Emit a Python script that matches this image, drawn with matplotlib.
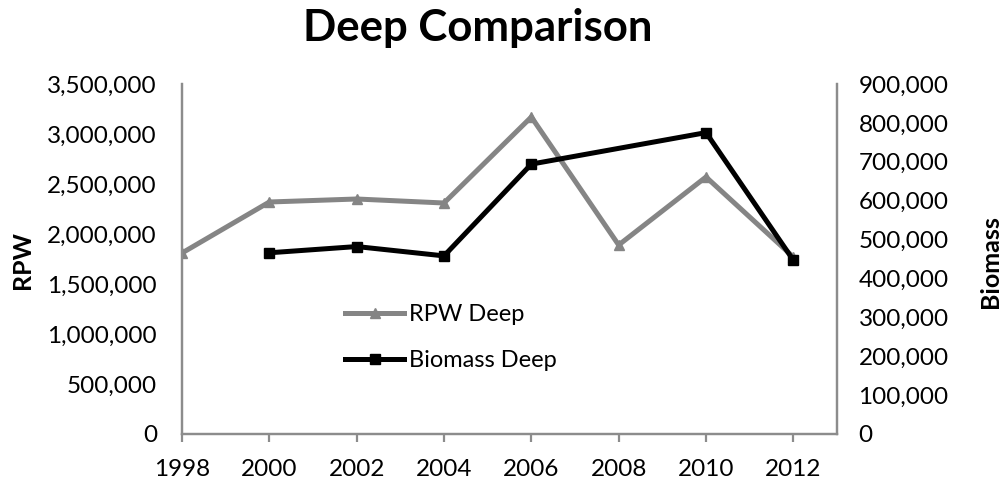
import matplotlib
matplotlib.use("Agg")
import matplotlib.pyplot as plt
from matplotlib.ticker import FuncFormatter

plt.rcParams["font.family"] = ["Lato", "DejaVu Sans"]

# data
rpw_years = [1998, 2000, 2002, 2004, 2006, 2008, 2010, 2012]
rpw_deep = [1810000, 2320000, 2350000, 2310000, 3170000, 1890000, 2570000, 1770000]
bio_years = [2000, 2002, 2004, 2006, 2010, 2012]
biomass_deep = [466000, 482000, 458000, 694000, 775000, 447000]
year_ticks = [1998, 2000, 2002, 2004, 2006, 2008, 2010, 2012]

gray = "#858585"
spine_gray = "#8c8c8c"

fig = plt.figure(figsize=(10.06, 4.84), dpi=100)
ax = fig.add_axes([182 / 1006, 50 / 484, 655 / 1006, 350 / 484])
ax2 = ax.twinx()

comma = FuncFormatter(lambda v, p: f"{int(v):,}")

l1, = ax.plot(rpw_years, rpw_deep, color=gray, lw=3.6, marker="^", ms=7,
              label="RPW Deep", solid_joinstyle="miter")
l2, = ax2.plot(bio_years, biomass_deep, color="black", lw=3.6, marker="s", ms=7,
               label="Biomass Deep", solid_joinstyle="miter")

ax.set_xlim(1998, 2013)
ax.set_xticks(year_ticks)
ax.set_ylim(0, 3500000)
ax.set_yticks(range(0, 3500001, 500000))
ax2.set_ylim(0, 900000)
ax2.set_yticks(range(0, 900001, 100000))
ax.yaxis.set_major_formatter(comma)
ax2.yaxis.set_major_formatter(comma)

for a in (ax, ax2):
    a.spines["top"].set_visible(False)
    for s in ("left", "right", "bottom"):
        a.spines[s].set_color(spine_gray)
        a.spines[s].set_linewidth(1.6)
    a.tick_params(axis="y", length=0, labelsize=17.5, colors="black")
ax.tick_params(axis="y", pad=18)
ax2.tick_params(axis="y", pad=15.5)
ax.tick_params(axis="x", length=6, width=1.6, color=spine_gray, labelsize=17.5, pad=12)

# axis titles placed in figure pixels
fig.text(23 / 1006, 1 - 260 / 484, "RPW", rotation=90, ha="center", va="center",
         fontsize=18, fontweight="bold")
fig.text(990 / 1006, 1 - 262 / 484, "Biomass", rotation=90, ha="center", va="center",
         fontsize=18, fontweight="bold")

fig.text(478 / 1006, 1 - 28 / 484, "Deep Comparison", ha="center", va="center",
         fontsize=31.5, fontweight="bold")

ax.legend(handles=[l1, l2], loc="center left", bbox_to_anchor=(0.249, 0.276),
          frameon=False, fontsize=17, handlelength=2.5, handletextpad=0.2,
          labelspacing=1.05, borderpad=0, borderaxespad=0)

fig.savefig("out.png", dpi=100)
